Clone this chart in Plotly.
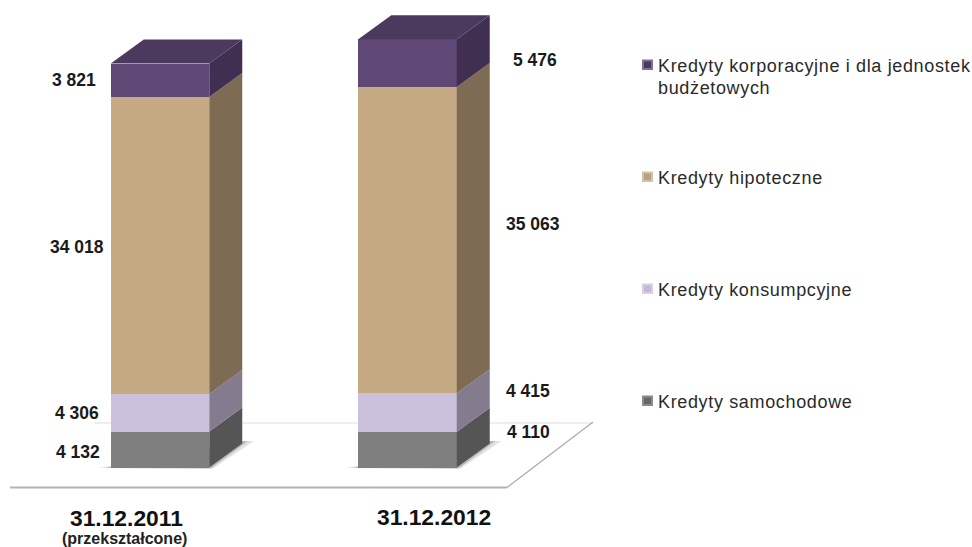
import plotly.graph_objects as go

W, H = 972, 547
categories = ["31.12.2011", "31.12.2012"]
category_note = "(przekształcone)"
series_names = ["Kredyty samochodowe", "Kredyty konsumpcyjne", "Kredyty hipoteczne", "Kredyty korporacyjne i dla jednostek<br>budżetowych"]
samochodowe = [4132, 4110]
konsumpcyjne = [4306, 4415]
hipoteczne = [34018, 35063]
korporacyjne = [3821, 5476]
series_values = [samochodowe, konsumpcyjne, hipoteczne, korporacyjne]
front_colors = ["#7f7f7f", "#ccc1dc", "#c4a983", "#5f4876"]
side_colors = ["#555555", "#857b8e", "#7d6b54", "#412f52"]
top_color = "#4b3a5e"
swatch_edge = ["#8c8c8c", "#d8d0e2", "#d3c3a6", "#7f7192"]
swatch_core = ["#666666", "#c4b8d6", "#b8a27f", "#4a3665"]

# scales: pixels per unit, and where the origin sits in the picture
x0_px, step_px = 160.0, 247.5
y0_px, y_scale = 467.6, 0.00873
bar_w = 98.5 / step_px
dx = 33 / step_px
dy = 24 / y_scale


def fmt(v):
    return f"{v:,}".replace(",", " ")


fig = go.Figure()
xs = list(range(len(categories)))
for name, vals, c, edge in zip(series_names, series_values, front_colors, swatch_edge):
    fig.add_trace(go.Bar(x=xs, y=vals, width=bar_w, marker=dict(color=c, line=dict(width=0)),
                         name=name.replace("<br>", " "), showlegend=False, hoverinfo="name+y"))

# 3D side and top faces, from the same stack values
base = [0, 0]
for vals, side in zip(series_values, side_colors):
    for i in xs:
        xr = i + bar_w / 2
        lo, hi = base[i], base[i] + vals[i]
        fig.add_trace(go.Scatter(x=[xr, xr + dx, xr + dx, xr, xr], y=[lo, lo + dy, hi + dy, hi, lo],
                                 mode="lines", fill="toself", fillcolor=side, line=dict(width=0),
                                 showlegend=False, hoverinfo="skip"))
        base[i] = hi
for i in xs:
    xl, xr = i - bar_w / 2, i + bar_w / 2
    t = base[i]
    fig.add_trace(go.Scatter(x=[xl, xl + dx, xr + dx, xr, xl], y=[t, t + dy, t + dy, t, t],
                             mode="lines", fill="toself", fillcolor=top_color, line=dict(width=0),
                             showlegend=False, hoverinfo="skip"))


def px(x):
    return x / W


def py(y):
    return 1 - y / H


shapes = []
def line(x1, y1, x2, y2, color, width):
    shapes.append(dict(type="line", xref="paper", yref="paper", x0=px(x1), y0=py(y1), x1=px(x2), y1=py(y2),
                       line=dict(color=color, width=width), layer="below"))

# floor
line(95, 423, 593, 423, "#dedede", 1.2)
line(507, 487.5, 593, 422, "#a8a8a8", 1.2)
line(10, 487.5, 507, 487.5, "#b4b4b4", 2)
# floor shadows: soft outer wedge and darker inner wedge
for bx in (111, 358.5):
    for reach, alpha in ((12, 0.2), (6, 0.35)):
        shapes.append(dict(type="path", xref="paper", yref="paper", layer="below", line=dict(width=0),
                           fillcolor=f"rgba(110,110,110,{alpha})",
                           path="M {} {} L {} {} L {} {} L {} {} Z".format(
                               px(bx - reach), py(468), px(bx + 98 + reach / 3), py(468.5),
                               px(bx + 131 + reach), py(441), px(bx + 131), py(441))))

# legend keys
legend_y = [401, 289, 177, 65]
for y, e, c in zip(legend_y, swatch_edge, swatch_core):
    shapes.append(dict(type="rect", xref="paper", yref="paper", layer="above", x0=px(642), x1=px(653),
                       y0=py(y + 5), y1=py(y - 5.5), fillcolor=e, line=dict(width=0)))
    shapes.append(dict(type="rect", xref="paper", yref="paper", layer="above", x0=px(644), x1=px(651),
                       y0=py(y + 3), y1=py(y - 3.5), fillcolor=c, line=dict(width=0)))

ann = []
def text(x, y, s, size, bold=False, anchor="center", color="#1a1a1a", spacing=None):
    if spacing:
        s = f'<span style="letter-spacing:{spacing}px">{s}</span>'
    ann.append(dict(xref="paper", yref="paper", x=px(x), y=py(y), text=f"<b>{s}</b>" if bold else s,
                    showarrow=False, xanchor=anchor, yanchor="middle", align="left",
                    font=dict(family="Liberation Sans", size=size, color=color)))

label_pos = [[(78, 452), (528, 432)], [(77, 413), (528, 391)], [(77, 247), (533, 224)], [(73.5, 80), (534.5, 60)]]
for vals, pos in zip(series_values, label_pos):
    for v, (x, y) in zip(vals, pos):
        text(x, y, fmt(v), 17.5, bold=True)

text(127, 518, categories[0], 22.8, bold=True, color="#111111")
text(433.5, 517, categories[1], 22.8, bold=True, color="#111111")
text(124, 538, category_note, 16, bold=True, color="#222222")

for y, n in zip(legend_y[:3], series_names[:3]):
    text(656, y + 1, n, 18, anchor="left", color="#2a2a2a", spacing=0.65)
first, second = series_names[3].split("<br>")
text(656, 66, first, 18, anchor="left", color="#2a2a2a", spacing=0.65)
text(656, 88, second, 18, anchor="left", color="#2a2a2a", spacing=0.65)

fig.update_layout(
    width=W, height=H, margin=dict(l=0, r=0, t=0, b=0), barmode="stack",
    paper_bgcolor="white", plot_bgcolor="rgba(0,0,0,0)", showlegend=False,
    shapes=shapes, annotations=ann,
    xaxis=dict(range=[-x0_px / step_px, (W - x0_px) / step_px], visible=False, domain=[0, 1]),
    yaxis=dict(range=[-(H - y0_px) / y_scale, y0_px / y_scale], visible=False, domain=[0, 1]),
)
fig.write_html("out.html", config=dict(displayModeBar=False),
               post_script="document.body.style.margin='0';document.body.style.overflow='hidden';")
